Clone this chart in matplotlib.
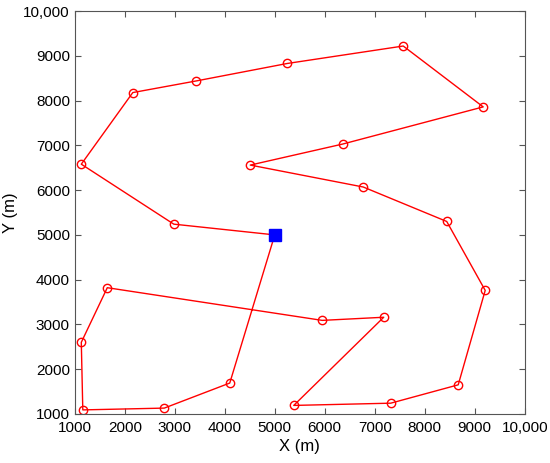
# Route plot: UAV path through waypoints starting from the base station

import matplotlib.pyplot as plt
from matplotlib.ticker import FuncFormatter

plt.rcParams['font.family'] = ['Liberation Sans', 'DejaVu Sans']

# Base station
base_x = [5000]
base_y = [5000]

# Waypoints in visiting order (closed loop back to base)
route_x = [5000, 2980, 1130, 2160, 3430, 5250, 7570, 9170, 6360, 4510, 6770,
           8440, 9210, 8670, 7320, 5380, 7180, 5950, 1650, 1130, 1160, 2790,
           4100, 5000]
route_y = [5000, 5240, 6580, 8180, 8440, 8830, 9220, 7860, 7030, 6560, 6070,
           5300, 3760, 1650, 1240, 1190, 3160, 3090, 3820, 2600, 1090, 1130,
           1690, 5000]

ticks = list(range(1000, 11000, 1000))


def tick_fmt(v, pos):
    # MATLAB-style: comma only for 10,000
    return '{:,}'.format(int(v)) if v >= 10000 else str(int(v))


fig = plt.figure(figsize=(5.5, 4.63), dpi=100)
ax = fig.add_axes([0.136, 0.106, 0.818, 0.870])

ax.plot(route_x, route_y, color='red', linewidth=1)
ax.plot(route_x[1:-1], route_y[1:-1], linestyle='none', marker='o',
        markersize=6, markerfacecolor='none', markeredgecolor='red',
        markeredgewidth=1)
ax.plot(base_x, base_y, linestyle='none', marker='s', markersize=8,
        color='blue')

ax.set_xlim(1000, 10000)
ax.set_ylim(1000, 10000)
ax.set_xticks(ticks)
ax.set_yticks(ticks)
ax.xaxis.set_major_formatter(FuncFormatter(tick_fmt))
ax.yaxis.set_major_formatter(FuncFormatter(tick_fmt))
ax.tick_params(direction='in', top=True, right=True, labelsize=11,
               length=4, color='#555555')
ax.tick_params(axis='x', pad=5)
for s in ax.spines.values():
    s.set_color('#555555')
    s.set_linewidth(0.8)

ax.set_xlabel('X (m)', fontsize=12, labelpad=3)
ax.set_ylabel('Y (m)', fontsize=12, labelpad=4)

fig.savefig('out.png', dpi=100)
